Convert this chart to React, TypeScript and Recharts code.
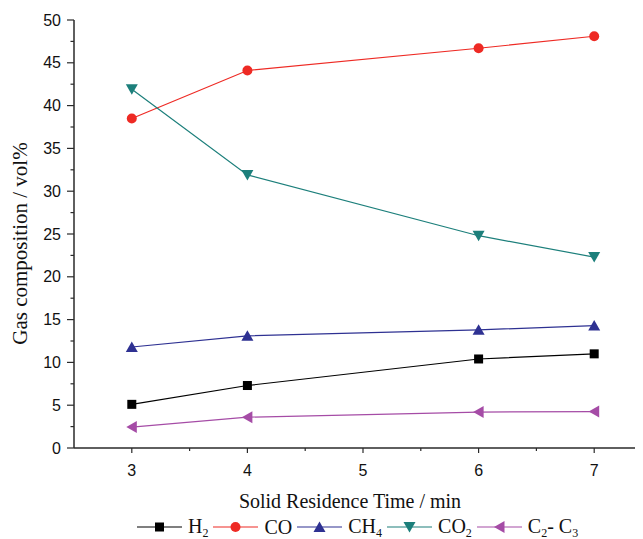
import React from 'react';
import { LineChart, Line, XAxis, YAxis, Legend } from 'recharts';

// ---- data ----
const times = [3, 4, 6, 7];
const h2 = [5.1, 7.3, 10.4, 11.0];
const co = [38.5, 44.1, 46.7, 48.1];
const ch4 = [11.8, 13.1, 13.8, 14.3];
const co2 = [41.9, 31.9, 24.8, 22.3];
const c2c3 = [2.45, 3.6, 4.2, 4.25];

const xTicks = [3, 3.5, 4, 4.5, 5, 5.5, 6, 6.5, 7, 7.5];
const xMajor = [3, 4, 5, 6, 7];
const yTicks = [0, 2.5, 5, 7.5, 10, 12.5, 15, 17.5, 20, 22.5, 25, 27.5, 30, 32.5, 35, 37.5, 40, 42.5, 45, 47.5, 50];
const yMajor = [0, 5, 10, 15, 20, 25, 30, 35, 40, 45, 50];

const xTitle = 'Solid Residence Time / min';
const yTitle = 'Gas composition / vol%';

type Part = { t: string; sub?: boolean };
const series: { key: string; values: number[]; color: string; shape: string; label: Part[] }[] = [
  { key: 'H2', values: h2, color: '#000000', shape: 'square', label: [{ t: 'H' }, { t: '2', sub: true }] },
  { key: 'CO', values: co, color: '#EE2A24', shape: 'circle', label: [{ t: 'CO' }] },
  { key: 'CH4', values: ch4, color: '#2E3192', shape: 'up', label: [{ t: 'CH' }, { t: '4', sub: true }] },
  { key: 'CO2', values: co2, color: '#1C7F7B', shape: 'down', label: [{ t: 'CO' }, { t: '2', sub: true }] },
  { key: 'C2C3', values: c2c3, color: '#A54CA6', shape: 'left', label: [{ t: 'C' }, { t: '2', sub: true }, { t: '- C' }, { t: '3', sub: true }] },
];

const data = times.map((t, i) => {
  const row: Record<string, number> = { time: t };
  series.forEach((s) => {
    row[s.key] = s.values[i];
  });
  return row;
});

const AXIS = '#2a2a2a';
const SANS = '"Liberation Sans", Arial, sans-serif';
const SERIF = '"Liberation Serif", "Times New Roman", serif';

function Marker({ shape, cx, cy, color }: { shape: string; cx: number; cy: number; color: string }) {
  if (cx == null || cy == null) return null;
  switch (shape) {
    case 'square':
      return <rect x={cx - 4.5} y={cy - 4.5} width={9} height={9} fill={color} />;
    case 'circle':
      return <circle cx={cx} cy={cy} r={5} fill={color} />;
    case 'up':
      return <polygon points={`${cx},${cy - 5.5} ${cx + 6},${cy + 5} ${cx - 6},${cy + 5}`} fill={color} />;
    case 'down':
      return <polygon points={`${cx - 6},${cy - 5} ${cx + 6},${cy - 5} ${cx},${cy + 5.5}`} fill={color} />;
    case 'left':
      return <polygon points={`${cx - 5.5},${cy} ${cx + 5},${cy - 6} ${cx + 5},${cy + 6}`} fill={color} />;
    default:
      return null;
  }
}

function XTick(props: any) {
  const { x, y, payload } = props;
  const v = payload.value;
  const major = xMajor.includes(v);
  return (
    <g>
      <line x1={x} x2={x} y1={y} y2={y + (major ? 5 : 3)} stroke={AXIS} strokeWidth={1.2} />
      {major && (
        <text x={x} y={y + 28} textAnchor="middle" fontFamily={SANS} fontSize={16} fill="#111">
          {v}
        </text>
      )}
    </g>
  );
}

function TopTick(props: any) {
  const { x, y } = props;
  return <line x1={x} x2={x} y1={y} y2={y + 2.5} stroke={AXIS} strokeWidth={1.2} />;
}

function YTick(props: any) {
  const { x, y, payload } = props;
  const v = payload.value;
  const major = yMajor.includes(v);
  return (
    <g>
      <line x1={x - (major ? 7 : 3.5)} x2={x} y1={y} y2={y} stroke={AXIS} strokeWidth={1.2} />
      {major && (
        <text x={x - 13} y={y + 5.6} textAnchor="end" fontFamily={SANS} fontSize={16} fill="#111">
          {v}
        </text>
      )}
    </g>
  );
}

function XTitle(props: any) {
  const vb = props.viewBox || {};
  const x = (vb.x ?? 66) + (vb.width ?? 578) / 2 - 13;
  const y = (vb.y ?? 440) + 60;
  return (
    <text x={x} y={y} textAnchor="middle" fontFamily={SERIF} fontSize={20} fill="#111">
      {xTitle}
    </text>
  );
}

function YTitle(props: any) {
  const vb = props.viewBox || {};
  const cy = (vb.y ?? 12) + (vb.height ?? 428) / 2 + 9.5;
  const x = 19;
  return (
    <text
      x={x}
      y={cy}
      textAnchor="middle"
      transform={`rotate(-90, ${x}, ${cy})`}
      fontFamily={SERIF}
      fontSize={21}
      fill="#111"
    >
      {yTitle}
    </text>
  );
}

function LegendContent() {
  return (
    <div
      style={{
        display: 'flex',
        alignItems: 'center',
        height: 24,
        paddingLeft: 129,
        fontFamily: SERIF,
        fontSize: 20,
        lineHeight: '24px',
        color: '#111',
        whiteSpace: 'nowrap',
      }}
    >
      {series.map((s) => (
        <div key={s.key} style={{ display: 'flex', alignItems: 'center', marginRight: 5 }}>
          <svg width={45} height={24} style={{ overflow: 'visible' }}>
            <line x1={0} x2={45} y1={12} y2={12} stroke={s.color} strokeWidth={1.2} />
            <Marker shape={s.shape} cx={22.5} cy={12} color={s.color} />
          </svg>
          <span style={{ marginLeft: 6 }}>
            {s.label.map((p, i) =>
              p.sub ? (
                <span key={i} style={{ fontSize: 12, position: 'relative', top: 4 }}>
                  {p.t}
                </span>
              ) : (
                <span key={i}>{p.t}</span>
              )
            )}
          </span>
        </div>
      ))}
    </div>
  );
}

export default function App() {
  return (
    <div style={{ width: 635, height: 531, overflow: 'hidden' }}>
      <LineChart width={660} height={531} data={data} margin={{ top: 12, right: 16, left: 0, bottom: 0 }}>
        <XAxis
          dataKey="time"
          type="number"
          domain={[2.5, 7.5]}
          ticks={xTicks}
          interval={0}
          allowDecimals
          height={67}
          tickSize={0}
          tickMargin={0}
          tickLine={false}
          axisLine={{ stroke: AXIS, strokeWidth: 1.5 }}
          tick={<XTick />}
          label={<XTitle />}
        />
        <XAxis
          xAxisId="top"
          dataKey="time"
          type="number"
          orientation="top"
          domain={[2.5, 7.5]}
          ticks={xTicks}
          interval={0}
          height={0}
          tickSize={0}
          tickMargin={0}
          tickLine={false}
          axisLine={{ stroke: AXIS, strokeWidth: 1.5 }}
          tick={<TopTick />}
        />
        <YAxis
          type="number"
          domain={[0, 50]}
          ticks={yTicks}
          interval={0}
          width={66}
          tickSize={0}
          tickMargin={0}
          tickLine={false}
          axisLine={{ stroke: AXIS, strokeWidth: 1.5 }}
          tick={<YTick />}
          label={<YTitle />}
        />
        <Legend verticalAlign="bottom" align="left" height={24} content={<LegendContent />} wrapperStyle={{ left: 0, width: 660 }} />
        {series.map((s) => (
          <Line
            key={s.key}
            dataKey={s.key}
            stroke={s.color}
            strokeWidth={1.2}
            isAnimationActive={false}
            activeDot={false}
            dot={(p: any) => <Marker key={`${s.key}-${p.index}`} shape={s.shape} cx={p.cx} cy={p.cy} color={s.color} />}
          />
        ))}
      </LineChart>
    </div>
  );
}
